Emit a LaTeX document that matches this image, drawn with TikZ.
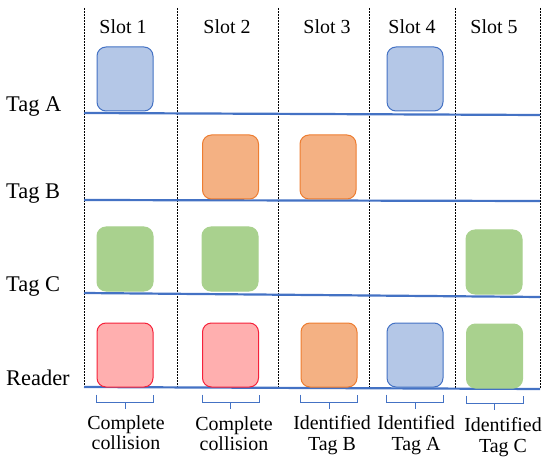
\documentclass[tikz,border=0pt]{standalone}
\usepackage{fontspec}
\setmainfont{Liberation Serif}
\definecolor{blueFill}{HTML}{B4C7E7}
\definecolor{blueLine}{HTML}{4472C4}
\definecolor{orangeFill}{HTML}{F4B183}
\definecolor{orangeLine}{HTML}{ED7D31}
\definecolor{greenFill}{HTML}{A9D18E}
\definecolor{redFill}{HTML}{FFAFAF}
\definecolor{redLine}{HTML}{F5213A}
\tikzset{
  slot/.style={line width=1bp, rounded corners=9bp, minimum width=56bp, minimum height=64bp, inner sep=0pt},
  boxA/.style={slot, draw=blueLine, fill=blueFill},
  boxB/.style={slot, draw=orangeLine, fill=orangeFill},
  boxC/.style={slot, draw=greenFill, fill=greenFill},
  boxR/.style={slot, draw=redLine, fill=redFill},
  tagline/.style={draw=blueLine, line width=2.2bp},
  sep/.style={line width=0.9bp, dash pattern=on 2bp off 1bp},
  brace/.style={draw=blueLine, line width=1bp},
  lbl/.style={font=\fontsize{22.5}{24}\selectfont, anchor=base west, inner sep=0pt},
  hdr/.style={font=\fontsize{20}{21}\selectfont, anchor=base, inner sep=0pt},
  note/.style={font=\fontsize{20}{21}\selectfont, align=center, anchor=north, inner sep=0pt}
}
\begin{document}
\begin{tikzpicture}[x=1bp, y=-1bp]
    \useasboundingbox (0,0) rectangle (550,464);

    % slot borders
    \draw [sep] (84, 8) -- (84, 388);
    \draw [sep] (177, 8) -- (177, 388);
    \draw [sep] (278, 8) -- (278, 389);
    \draw [sep] (369, 8) -- (369, 389);
    \draw [sep] (455, 8) -- (455, 389);
    \draw [sep] (540, 8) -- (540, 389);

    \node [hdr] (s1) at (123, 34) {Slot 1};
    \node [hdr] (s2) at (227, 34) {Slot 2};
    \node [hdr] (s3) at (327, 34) {Slot 3};
    \node [hdr] (s4) at (412, 34) {Slot 4};
    \node [hdr] (s5) at (494, 34) {Slot 5};

    % time lines
    \draw [tagline] (84, 113) -- (540, 115);
    \draw [tagline] (84, 200) -- (540, 201);
    \draw [tagline] (84, 293) -- (540, 297);
    \draw [tagline] (84, 387) -- (540, 389);

    \node [lbl] (la) at (6, 112) {Tag A};
    \node [lbl] (lb) at (6, 199) {Tag B};
    \node [lbl] (lc) at (6, 291) {Tag C};
    \node [lbl] (lr) at (6, 385) {Reader};

    % replies
    \node [boxA] (a1) at (125, 79) {};
    \node [boxA] (a4) at (415, 79) {};
    \node [boxB] (b2) at (230.5, 167) {};
    \node [boxB] (b3) at (328, 167) {};
    \node [boxC] (c1) at (125, 259) {};
    \node [boxC] (c2) at (230, 259) {};
    \node [boxC] (c5) at (494, 262) {};

    \node [boxR] (r1) at (125, 355) {};
    \node [boxR] (r2) at (230.5, 355) {};
    \node [boxB] (r3) at (329, 355) {};
    \node [boxA] (r4) at (415, 355) {};
    \node [boxC] (r5) at (494.5, 356) {};

    % outcomes
    \draw [brace] ([yshift=-7bp]r1.south west) |- ([yshift=-15bp]r1.south) -| ([yshift=-7bp]r1.south east);
    \draw [brace] ([yshift=-15bp]r1.south) -- ([yshift=-21bp]r1.south);
    \draw [brace] ([yshift=-7bp]r2.south west) |- ([yshift=-15bp]r2.south) -| ([yshift=-7bp]r2.south east);
    \draw [brace] ([yshift=-15bp]r2.south) -- ([yshift=-21bp]r2.south);
    \draw [brace] ([yshift=-7bp]r3.south west) |- ([yshift=-15bp]r3.south) -| ([yshift=-7bp]r3.south east);
    \draw [brace] ([yshift=-15bp]r3.south) -- ([yshift=-21bp]r3.south);
    \draw [brace] ([yshift=-7bp]r4.south west) |- ([yshift=-15bp]r4.south) -| ([yshift=-7bp]r4.south east);
    \draw [brace] ([yshift=-15bp]r4.south) -- ([yshift=-21bp]r4.south);
    \draw [brace] ([yshift=-7bp]r5.south west) |- ([yshift=-15bp]r5.south) -| ([yshift=-7bp]r5.south east);
    \draw [brace] ([yshift=-15bp]r5.south) -- ([yshift=-21bp]r5.south);

    \node [note] (o1) at (126, 415) {Complete\\collision};
    \node [note] (o2) at (234, 416) {Complete\\collision};
    \node [note] (o3) at (332, 415) {Identified\\Tag B};
    \node [note] (o4) at (416, 415) {Identified\\Tag A};
    \node [note] (o5) at (503, 417) {Identified\\Tag C};
\end{tikzpicture}
\end{document}
